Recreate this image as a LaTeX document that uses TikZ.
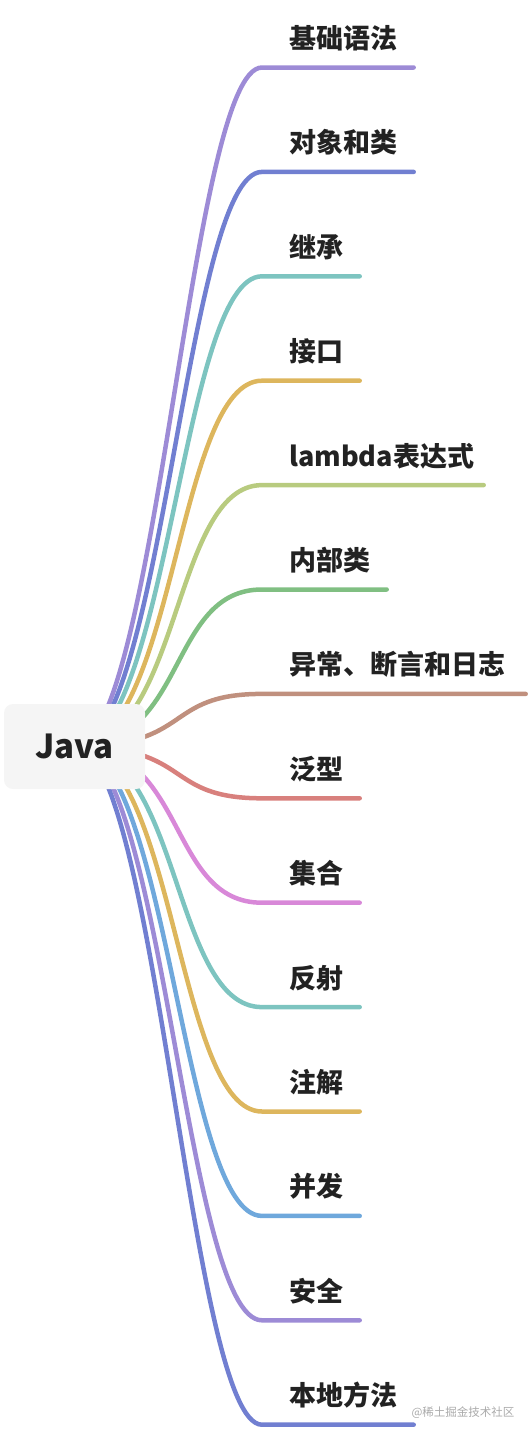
\documentclass[tikz,border=0pt]{standalone}
\usepackage{fontspec}
\setmainfont{Noto Sans CJK SC}
\definecolor{c1}{HTML}{9D8BD6}
\definecolor{c2}{HTML}{717FD1}
\definecolor{c3}{HTML}{7DC4C0}
\definecolor{c4}{HTML}{DDB65D}
\definecolor{c5}{HTML}{B8CB7F}
\definecolor{c6}{HTML}{80BF82}
\definecolor{c7}{HTML}{C0907E}
\definecolor{c8}{HTML}{D8807D}
\definecolor{c9}{HTML}{D888D8}
\definecolor{c12}{HTML}{6FA8DC}
\definecolor{txt}{HTML}{222222}
\definecolor{rootbg}{HTML}{F5F5F5}
\definecolor{wmgray}{HTML}{AAAAAA}
\pgfdeclarelayer{bg}
\pgfsetlayers{bg,main}
\begin{document}
\begin{tikzpicture}[x=1pt,y=-1pt,
  branch/.style={line width=4.5pt, line cap=round},
  lbl/.style={anchor=base west, inner sep=0pt, font=\fontsize{27}{30}\selectfont\bfseries, text=txt},
  root/.style={fill=rootbg, rounded corners=9pt, minimum width=141pt, minimum height=85pt, inner sep=0pt, font=\fontsize{33}{38}\selectfont\bfseries, text=txt},
  wm/.style={inner sep=0pt, font=\fontsize{11.5}{13}\selectfont, text=wmgray}]
\useasboundingbox (0,0) rectangle (530,1436);
\node[root] (java) at (74.5,746.5) {Java};
\foreach \i/\txt/\xe/\col in {1/基础语法/416/c1, 2/对象和类/416/c2, 3/继承/362/c3, 4/接口/362/c4, 5/lambda表达式/486/c5, 6/内部类/389/c6, 7/异常、断言和日志/528/c7, 8/泛型/362/c8, 9/集合/362/c9, 10/反射/362/c3, 11/注解/362/c4, 12/并发/362/c12, 13/安全/362/c1, 14/本地方法/416/c2} {
  \pgfmathsetmacro\ey{67.5+(\i-1)*104.4}
  \pgfmathsetmacro\dy{abs(\ey-746.5)}
  \pgfmathsetmacro\xa{197-0.06*\dy}
  \pgfmathsetmacro\xb{160+0.045*\dy}
  \pgfmathsetmacro\xend{\xe-2.3}
  \coordinate (s\i) at (262,\ey);
  \coordinate (e\i) at (\xend,\ey);
  \node[lbl] (t\i) at (289,\ey-19) {\txt};
  \begin{pgfonlayer}{bg}
    \draw[branch,draw=\col] (java.center) .. controls (\xa,746.5) and (\xb,\ey) .. (s\i) -- (e\i);
  \end{pgfonlayer}
}
\node[wm] (wmark) at (463,1413) {@稀土掘金技术社区};
\end{tikzpicture}
\end{document}
